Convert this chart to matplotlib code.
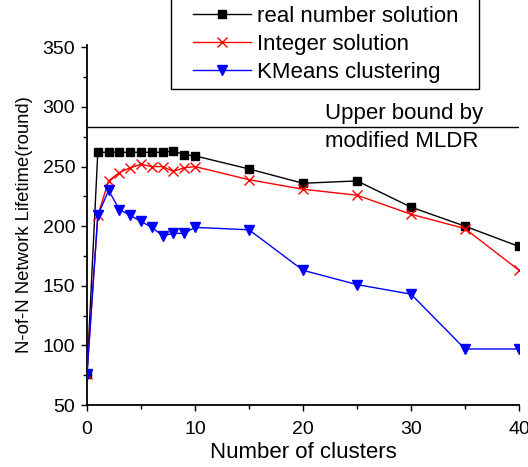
import matplotlib
matplotlib.use("Agg")
import matplotlib.pyplot as plt
from matplotlib.ticker import MultipleLocator
from matplotlib.patches import Rectangle

plt.rcParams['font.family'] = ['Liberation Sans', 'DejaVu Sans']

clusters = [0, 1, 2, 3, 4, 5, 6, 7, 8, 9, 10, 15, 20, 25, 30, 35, 40]
real_solution = [76, 262, 262, 262, 262, 262, 262, 262, 263, 260, 259, 248, 236, 238, 216, 200, 183]
integer_solution = [76, 209, 238, 245, 249, 252, 250, 250, 246, 249, 250, 239, 231, 226, 210, 198, 163]
kmeans = [76, 209, 230, 214, 209, 204, 199, 192, 194, 194, 199, 197, 163, 151, 143, 97, 97]
upper_bound = 283

W, H = 528, 467
fig = plt.figure(figsize=(W/100, H/100), dpi=100)
ax = fig.add_axes([87/W, 1-405/H, (519-87)/W, (405-45)/H])

ax.plot(clusters, real_solution, color='black', lw=1, marker='s', ms=6,
        label='real number solution', zorder=3)
ax.plot(clusters, integer_solution, color='red', lw=1, marker='x', ms=7.5, mew=1,
        label='Integer solution', zorder=3)
ax.plot(clusters, kmeans, color='blue', lw=1, marker='v', ms=7.5,
        label='KMeans clustering', zorder=3)
ax.axhline(upper_bound, color='black', lw=1)
tx = (325-87)/(519-87)
ax.text(tx, upper_bound + 2.5, 'Upper bound by', transform=ax.get_yaxis_transform(),
        fontsize=16, va='bottom', ha='left')
ax.text(tx, upper_bound - 3, 'modified MLDR', transform=ax.get_yaxis_transform(),
        fontsize=16, va='top', ha='left')

ax.set_xlim(0, 40)
ax.set_ylim(50, 352)
ax.xaxis.set_major_locator(MultipleLocator(10))
ax.xaxis.set_minor_locator(MultipleLocator(5))
ax.yaxis.set_major_locator(MultipleLocator(50))
ax.yaxis.set_minor_locator(MultipleLocator(25))
ax.set_yticks([50, 100, 150, 200, 250, 300, 350])
for s in ['top', 'right']:
    ax.spines[s].set_visible(False)
ax.spines['left'].set_linewidth(1.3)
ax.spines['bottom'].set_linewidth(1.3)
ax.tick_params(which='major', direction='out', length=4.5, width=1, labelsize=14)
ax.tick_params(axis='x', which='major', pad=7)
ax.tick_params(axis='y', which='major', pad=4)
ax.tick_params(which='minor', direction='out', length=3, width=1)
ax.set_xlabel('Number of clusters', fontsize=16, labelpad=3)
ax.set_ylabel('N-of-N Network Lifetime(round)', fontsize=13.3, labelpad=7)

leg = fig.legend(loc='upper left', bbox_to_anchor=(193/W, 1-6/H), fontsize=16,
                 frameon=False, handlelength=2.6, borderaxespad=0, borderpad=0,
                 labelspacing=0.32, handletextpad=0.3)
fig.patches.append(Rectangle((171/W, 1-89/H), (479-171)/W, 95/H, transform=fig.transFigure,
                             fill=False, edgecolor='black', lw=1))

fig.savefig('out.png', dpi=100)
